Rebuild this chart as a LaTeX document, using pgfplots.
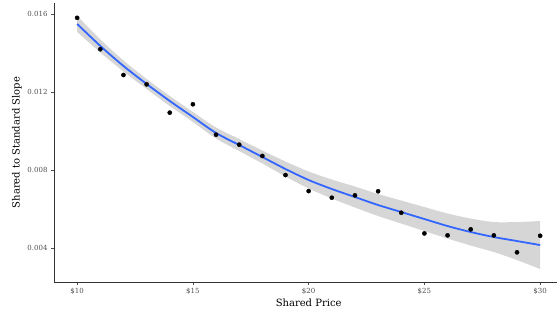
\documentclass[border=0pt]{standalone}
\usepackage{pgfplots}
\pgfplotsset{compat=1.18}
\usepgfplotslibrary{fillbetween}
\usepackage{fontspec}
\setmainfont{DejaVu Serif}
\definecolor{smoothblue}{HTML}{3366FF}
\definecolor{tickgray}{HTML}{4D4D4D}
\begin{document}
\begin{tikzpicture}
\begin{axis}[
  at={(54pt,34pt)}, anchor=south west,
  scale only axis, width=509.3pt, height=279pt,
  xmin=9, xmax=31, ymin=0.00226, ymax=0.01656,
  axis x line*=bottom, axis y line*=left,
  axis line style={draw=black!80, line width=0.8pt, -},
  tick align=outside, major tick length=3pt,
  tick style={draw=black!70, line width=0.6pt},
  xtick={10,15,20,25,30},
  xticklabels={\$10,\$15,\$20,\$25,\$30},
  ytick={0.004,0.008,0.012,0.016},
  yticklabels={0.004,0.008,0.012,0.016},
  scaled y ticks=false,
  ticklabel style={font=\fontsize{7}{8}\selectfont, text=tickgray},
  /pgf/number format/assume math mode=true,
  xlabel={Shared Price},
  ylabel={Shared to Standard Slope},
  label style={font=\fontsize{10}{12}\selectfont},
  xlabel style={at={(axis description cs:0.5,-0.0753)}, anchor=center},
  ylabel style={at={(axis description cs:-0.0727,0.5)}, anchor=center},
  clip=false,
]
\addplot[only marks, mark=*, mark size=2.1pt, black] coordinates {
(10,0.01580) (11,0.01419) (12,0.01287) (13,0.01239) (14,0.01094)
(15,0.01137) (16,0.00981) (17,0.00930) (18,0.00872) (19,0.00774)
(20,0.00692) (21,0.00658) (22,0.00670) (23,0.00691) (24,0.00581)
(25,0.00475) (26,0.00465) (27,0.00496) (28,0.00465) (29,0.00378)
(30,0.00463)
};
\addplot[name path=U, draw=none, smooth, forget plot] coordinates {
(10,0.015897) (11,0.014692) (12,0.013615) (13,0.012666) (14,0.011794)
(15,0.010974) (16,0.010179) (17,0.009590) (18,0.009000) (19,0.008436)
(20,0.007923) (21,0.007513) (22,0.007153) (23,0.006769) (24,0.006436)
(25,0.006102) (26,0.005769) (27,0.005513) (28,0.005333) (29,0.005333)
(30,0.005385)
};
\addplot[name path=L, draw=none, smooth, forget plot] coordinates {
(10,0.015077) (11,0.014026) (12,0.013051) (13,0.012154) (14,0.011282)
(15,0.010462) (16,0.009615) (17,0.008974) (18,0.008334) (19,0.007666)
(20,0.007051) (21,0.006539) (22,0.006077) (23,0.005641) (24,0.005256)
(25,0.004872) (26,0.004487) (27,0.004129) (28,0.003795) (29,0.003385)
(30,0.002923)
};
\addplot[fill=black!40, fill opacity=0.4, draw=none] fill between[of=U and L];
\addplot[smoothblue, line width=1.8pt, smooth] coordinates {
(10,0.015487) (11,0.014359) (12,0.013333) (13,0.012410) (14,0.011538)
(15,0.010718) (16,0.009897) (17,0.009282) (18,0.008667) (19,0.008051)
(20,0.007487) (21,0.007026) (22,0.006615) (23,0.006205) (24,0.005846)
(25,0.005487) (26,0.005128) (27,0.004821) (28,0.004564) (29,0.004359)
(30,0.004154)
};
\end{axis}
\pgfresetboundingbox
\useasboundingbox (0,0) rectangle (557pt,316pt);
\end{tikzpicture}
\end{document}
